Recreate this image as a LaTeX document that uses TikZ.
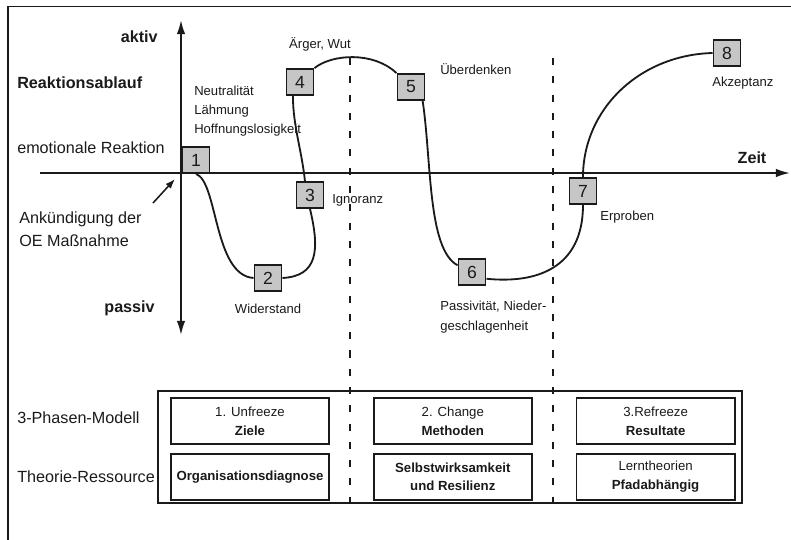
\documentclass[tikz,border=0pt]{standalone}
\usepackage{fontspec}
\setmainfont{Liberation Sans}
\usepackage{tikz}
\usetikzlibrary{arrows.meta, positioning}
\definecolor{ink}{HTML}{1A1A1A}
\definecolor{boxgray}{HTML}{C6C6C6}

\begin{document}
\begin{tikzpicture}[
        x=0.025cm, y=-0.025cm,
        every node/.style={text=ink},
        stage/.style={rectangle,draw=ink,fill=boxgray,line width=1.25pt,minimum width=0.68cm,minimum height=0.65cm,inner sep=0pt,font=\fontsize{12.5}{14}\selectfont},
        note/.style={font=\fontsize{9.3}{13.5}\selectfont,align=left,inner sep=0pt},
        axislabel/.style={font=\fontsize{11.5}{16.4}\selectfont,align=left,inner sep=0pt},
        phase/.style={rectangle,draw=ink,line width=1.25pt,minimum width=3.95cm,minimum height=1.15cm,inner sep=0pt,align=center,font=\fontsize{9.4}{13.5}\selectfont},
        divider/.style={draw=ink,line width=1.3pt,dash pattern=on 5pt off 8pt},
        curve/.style={draw=ink,line width=1.3pt}
    ]
    \useasboundingbox (0,0) rectangle (791,540);
    \draw[ink,line width=1.2pt] (8,540) -- (8,6.5) -- (791,6.5);

    % Achsen
    \coordinate (ytop) at (181,20);
    \coordinate (ybot) at (181,335);
    \coordinate (xl) at (40,173);
    \coordinate (xr) at (790,173);
    \draw[ink,line width=1.25pt,{Latex[length=10pt,width=6pt]}-{Latex[length=10pt,width=6pt]}] (ybot) -- (ytop);
    \draw[ink,line width=1.25pt,-{Latex[length=10pt,width=6pt]}] (xl) -- (xr);
    \foreach \x in {350,553}
        \draw[divider] (\x,58) -- (\x,503);

    \node[axislabel,anchor=east] (aktiv) at (158,37) {\textbf{aktiv}};
    \node[axislabel,anchor=west] (ablauf) at (17,83) {\textbf{Reaktionsablauf}};
    \node[axislabel,anchor=west] (emo) at (17,148) {emotionale Reaktion};
    \node[axislabel,anchor=west] (ank) at (19,229.5) {Ankündigung der\\OE Maßnahme};
    \node[axislabel,anchor=east] (passiv) at (155,308) {\textbf{passiv}};
    \node[axislabel] (zeit) at (752,158) {\textbf{Zeit}};
    \coordinate (ankfuss) at (153,203);
    \coordinate (ankspitze) at (175,179);
    \draw[ink,line width=1.1pt,-{Latex[length=7pt,width=5pt]}] (ankfuss) -- (ankspitze);

    % Stufen
    \node[stage] (b1) at (196,160) {1};
    \node[stage] (b2) at (268,278) {2};
    \node[stage] (b3) at (310,195) {3};
    \node[stage] (b4) at (300,82) {4};
    \node[stage] (b5) at (411,87) {5};
    \node[stage] (b6) at (472,272) {6};
    \node[stage] (b7) at (583,191) {7};
    \node[stage] (b8) at (727,53) {8};
    \draw[curve] (b1.south) .. controls +(22,8) and +(-40,-3) .. (b2.west)
        (b2.east) .. controls +(35,-2) and +(10,42) .. (b3.south)
        (b3.110) .. controls +(-3,-30) and +(0,30) .. (b4.243)
        (b4.north east) .. controls +(17,-14) and +(-23,-22) .. (b5.north west)
        (b5.-50) .. controls +(9,60) and +(-30,-16) .. (b6.155)
        (b6.-25) .. controls +(49,5) and +(0,64) .. (b7.south)
        (b7.north) .. controls +(0,-68) and +(-73,2) .. (b8.west);

    \node[note,anchor=west] (neutral) at (194,111) {Neutralität\\Lähmung\\Hoffnungslosigkeit};
    \node[note] (wut) at (320,44) {Ärger, Wut};
    \node[note,anchor=west] (ueber) at (440,69) {Überdenken};
    \node[note,anchor=west] (akz) at (712,83) {Akzeptanz};
    \node[note,anchor=west] (ign) at (332,200) {Ignoranz};
    \node[note,below=0.3cm of b2] (wider) {Widerstand};
    \node[note,anchor=west] (erpr) at (600,217) {Erproben};
    \node[note,anchor=west,font=\fontsize{9.3}{14.2}\selectfont] (passv) at (440,317) {Passivität, Nieder-\\geschlagenheit};

    % Phasen
    \draw[ink,line width=1.4pt] (158,391) rectangle (742,503);
    \node[axislabel,anchor=west] (modell) at (17,418) {3-Phasen-Modell};
    \node[axislabel,anchor=west] (theorie) at (17,477) {Theorie-Ressource};
    \node[phase] (p1) at (250,421) {1. Unfreeze\\\textbf{Ziele}};
    \node[phase,right=1.075cm of p1] (p2) {2. Change\\\textbf{Methoden}};
    \node[phase,right=1.075cm of p2] (p3) {3.Refreeze\\\textbf{Resultate}};
    \node[phase,below=0.2cm of p1] (r1) {\textbf{Organisationsdiagnose}};
    \node[phase,below=0.2cm of p2] (r2) {\textbf{Selbstwirksamkeit}\\\textbf{und Resilienz}};
    \node[phase,below=0.2cm of p3] (r3) {Lerntheorien\\\textbf{Pfadabhängig}};
\end{tikzpicture}
\end{document}
